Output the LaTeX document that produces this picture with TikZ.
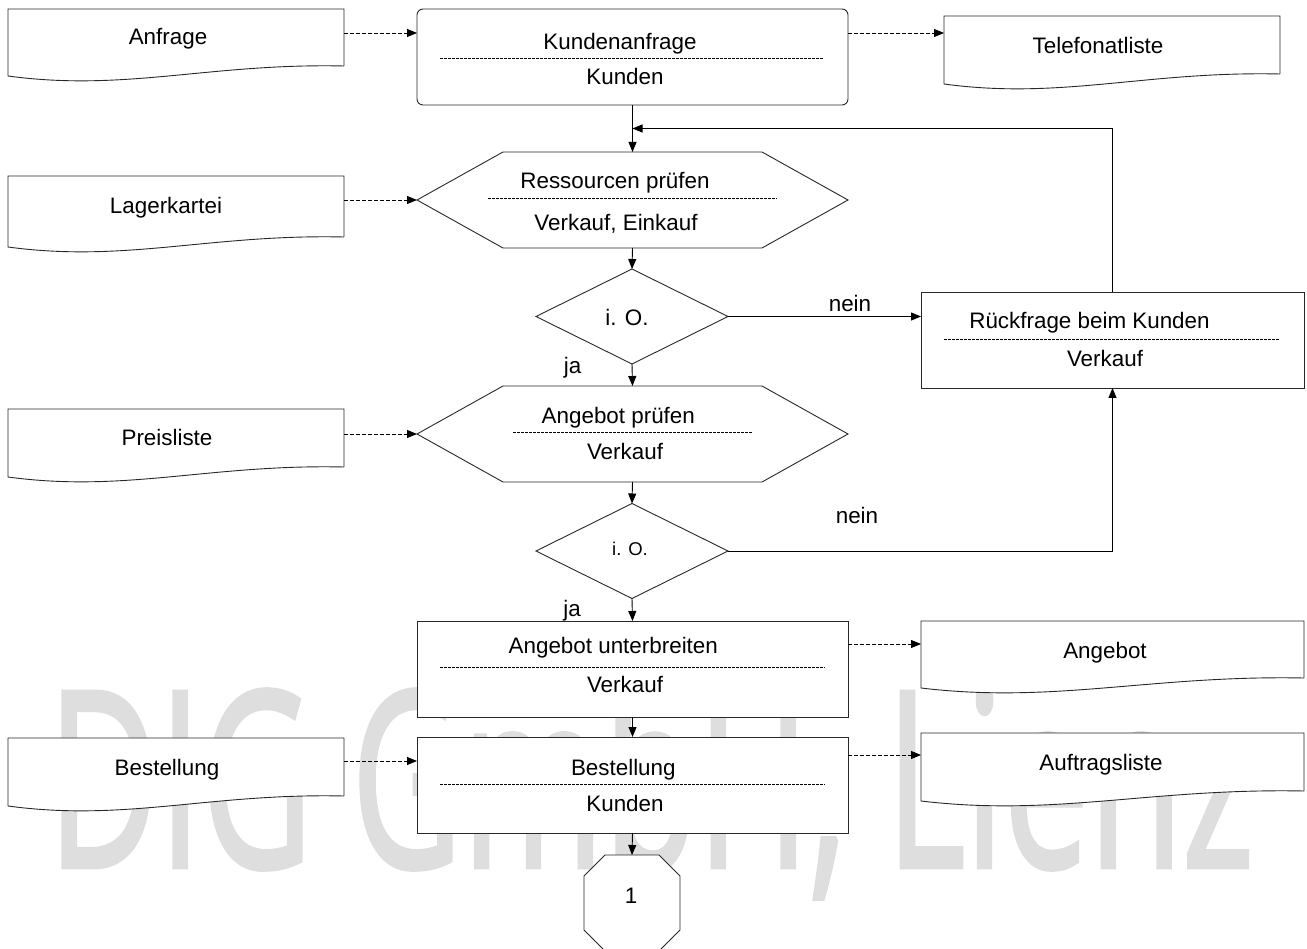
\documentclass[tikz,border=0pt]{standalone}
\usepackage{fontspec}
\setmainfont{Liberation Sans}
\newfontfamily\wmfont{Open Sans}[FakeBold=2]
\usetikzlibrary{arrows.meta,shapes.geometric,calc}

\definecolor{wmgray}{RGB}{222,222,222}
\definecolor{linegray}{RGB}{40,40,40}

% document symbol with a wavy lower edge, drawn around an empty node
\newcommand\docoutline[1]{%
  \draw[outline] (#1.south east) -- (#1.north east) -- (#1.north west)
    -- ($(#1.south west)+(0,10)$)
    .. controls ($(#1.south west)!0.35!(#1.south east)+(0,26)$)
       and ($(#1.south west)!0.6!(#1.south east)+(0,-3)$) .. (#1.south east);}
% flat hexagon (preparation step) around an empty node
\newcommand\hexoutline[1]{%
  \draw[outline] (#1.west) -- ($(#1.north west)+(86,0)$) -- ($(#1.north east)+(-86,0)$)
    -- (#1.east) -- ($(#1.south east)+(-86,0)$) -- ($(#1.south west)+(86,0)$) -- cycle;}

\begin{document}
\begin{tikzpicture}[x=1pt,y=-1pt,
  every node/.style={inner sep=0pt, outer sep=0pt},
  txt/.style={anchor=base, font=\fontsize{22.4}{26}\selectfont},
  smalltxt/.style={anchor=base, font=\fontsize{18.5}{22}\selectfont},
  outline/.style={draw=linegray, line width=0.9pt, fill=white},
  frame/.style={minimum width=#1, minimum height=96pt},
  docbox/.style 2 args={minimum width=#1, minimum height=#2},
  decision/.style={shape=diamond, outline, minimum width=192pt, minimum height=95pt},
  flow/.style={draw=black, line width=0.9pt, -{Triangle[length=10pt,width=8pt]}},
  data/.style={flow, dash pattern=on 4pt off 2pt},
  sep/.style={draw=black, line width=0.6pt, dash pattern=on 3pt off 1pt}]

\useasboundingbox (0,0) rectangle (1307,949);

% watermark
\node[anchor=base west, text=wmgray] (wm) at (48,867)
  {\resizebox{1204pt}{186pt}{\wmfont DIG GmbH, Lienz}};

% ---- documents on the left
\node[docbox={336pt}{57pt}] (anfrage) at (176,37.5) {};
\docoutline{anfrage}
\node[txt] (anfrage-t) at (168,45) {Anfrage};

\node[docbox={336pt}{61pt}] (lager) at (176,206.5) {};
\docoutline{lager}
\node[txt] (lager-t) at (166,213.5) {Lagerkartei};

\node[docbox={336pt}{58pt}] (preis) at (176,438) {};
\docoutline{preis}
\node[txt] (preis-t) at (167,446) {Preisliste};

\node[docbox={336pt}{58pt}] (bestdoc) at (176,767) {};
\docoutline{bestdoc}
\node[txt] (bestdoc-t) at (167,775) {Bestellung};

% ---- documents on the right
\node[docbox={336pt}{58pt}] (telefon) at (1112,45) {};
\docoutline{telefon}
\node[txt] (telefon-t) at (1098,53.5) {Telefonatliste};

\node[docbox={383pt}{57pt}] (angebot) at (1112.5,649.5) {};
\docoutline{angebot}
\node[txt] (angebot-t) at (1105,658) {Angebot};

\node[docbox={383pt}{58pt}] (auftr) at (1112.5,762) {};
\docoutline{auftr}
\node[txt] (auftr-t) at (1101,770) {Auftragsliste};

% ---- process steps
\node[frame=431pt, outline, rounded corners=6pt] (kanfr) at (632.5,57) {};
\node[txt] (kanfr-t) at (620,49.3) {Kundenanfrage};
\draw[sep] (440,58.3) -- (823,58.3);
\node[txt] (kanfr-s) at (625,85) {Kunden};

\node[frame=431pt] (ress) at (632.5,200) {};
\hexoutline{ress}
\node[txt] (ress-t) at (615,188.3) {Ressourcen prüfen};
\draw[sep] (488,198.3) -- (777,198.3);
\node[txt] (ress-s) at (616,231) {Verkauf, Einkauf};

\node[decision] (d1) at (632,316.5) {};
\node[txt] (d1-t) at (627,326) {i. O.};

\node[frame=383pt, outline] (rueck) at (1112.5,340) {};
\node[txt] (rueck-t) at (1089.5,329) {Rückfrage beim Kunden};
\draw[sep] (944,339.3) -- (1279,339.3);
\node[txt] (rueck-s) at (1105,366.7) {Verkauf};

\node[frame=431pt] (angpr) at (632.5,434) {};
\hexoutline{angpr}
\node[txt] (angpr-t) at (618.3,423.3) {Angebot prüfen};
\draw[sep] (513,432.7) -- (753,432.7);
\node[txt] (angpr-s) at (625,459.3) {Verkauf};

\node[decision] (d2) at (632,551) {};
\node[smalltxt] (d2-t) at (630,555) {i. O.};

\node[frame=431pt, outline] (angunt) at (632.5,669) {};
\node[txt] (angunt-t) at (613.3,653.3) {Angebot unterbreiten};
\draw[sep] (440,667.3) -- (825,667.3);
\node[txt] (angunt-s) at (625,692.7) {Verkauf};

\node[frame=431pt, outline] (best) at (632.5,785) {};
\node[txt] (best-t) at (623.3,775) {Bestellung};
\draw[sep] (440,784) -- (825,784);
\node[txt] (best-s) at (625,811) {Kunden};

% off-page connector
\node[minimum size=96pt] (conn) at (632,903) {};
\draw[outline] ($(conn.north west)+(21,0)$) -- ($(conn.north east)+(-21,0)$)
  -- ($(conn.north east)+(0,21)$) -- ($(conn.south east)+(0,-21)$)
  -- ($(conn.south east)+(-21,0)$) -- ($(conn.south west)+(21,0)$)
  -- ($(conn.south west)+(0,-21)$) -- ($(conn.north west)+(0,21)$) -- cycle;
\node[txt] (conn-t) at (631,903.3) {1};

% ---- control flow
\draw[flow] (kanfr.south) -- (ress.north);
\draw[flow] (ress.south) -- (d1.north);
\draw[flow] (d1.south) -- (angpr.north);
\draw[flow] (angpr.south) -- (d2.north);
\draw[flow] (d2.south) -- (angunt.north);
\draw[flow] (angunt.south) -- (best.north);
\draw[flow] (best.south) -- (conn.north);

\draw[flow] (d1.east) -- (d1.east -| rueck.west);
\draw[flow] (d2.east) -| (rueck.south);
\draw[flow] (rueck.north) |- ($(kanfr.south)!0.5!(ress.north)$);

\node[txt] (nein1) at (850,311.7) {nein};
\node[txt] (ja1) at (572.7,373.3) {ja};
\node[txt] (nein2) at (857,523) {nein};
\node[txt] (ja2) at (572,616.7) {ja};

% ---- data flow
\draw[data] ($(anfrage.north east)+(0,24)$) coordinate (a1) -- (a1 -| kanfr.west);
\draw[data] (lager.east |- ress.west) -- (ress.west);
\draw[data] ($(kanfr.north east)+(0,24)$) coordinate (a3) -- (a3 -| telefon.west);
\draw[data] (preis.east |- angpr.west) -- (angpr.west);
\draw[data] ($(angunt.north east)+(0,23)$) coordinate (a5) -- (a5 -| angebot.west);
\draw[data] ($(bestdoc.north east)+(0,23)$) coordinate (a6) -- (a6 -| best.west);
\draw[data] ($(best.north east)+(0,18)$) coordinate (a7) -- (a7 -| auftr.west);

\end{tikzpicture}
\end{document}
